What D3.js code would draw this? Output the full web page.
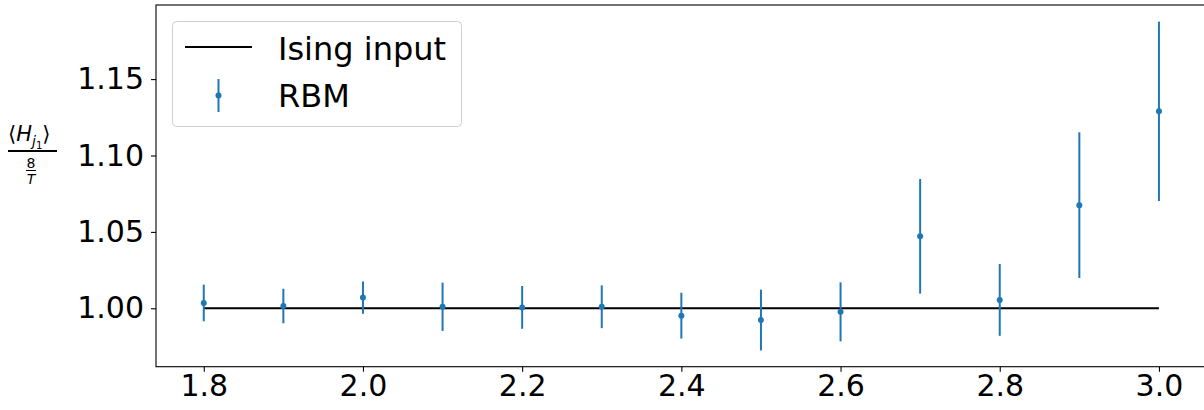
<!DOCTYPE html>
<html>
<head>
<meta charset="utf-8">
<script src="https://cdn.jsdelivr.net/npm/d3@7"></script>
<style>
  body { margin: 0; background: #fff; }
  svg { display: block; font-family: "DejaVu Sans", sans-serif; }
</style>
</head>
<body>
<script>
'use strict'
// temperatures
const temps = [1.8, 1.9, 2.0, 2.1, 2.2, 2.3, 2.4, 2.5, 2.6, 2.7, 2.8, 2.9, 3.0];
// RBM mean and error
const rbmMean = [1.0035, 1.0015, 1.0070, 1.0010, 1.0006, 1.0010, 0.9952, 0.9923, 0.9977, 1.0471, 1.0055, 1.0675, 1.1289];
const rbmErr  = [0.0120, 0.0113, 0.0106, 0.0158, 0.0140, 0.0140, 0.0150, 0.0199, 0.0193, 0.0375, 0.0235, 0.0477, 0.0587];
// Ising input reference
const isingValue = [1.0, 1.0];
const isingRange = [1.8, 3.0];
const xTicks = [1.8, 2.0, 2.2, 2.4, 2.6, 2.8, 3.0];
const yTicks = [1.00, 1.05, 1.10, 1.15];

const w = 1204;
const h = 410;
const padLeft = 156, padTop = 5, padBottom = 366.7;
const blue = "#1f77b4";

const xScale = d3.scaleLinear()
	.domain([1.74, 3.06])
	.range([padLeft, padLeft + 1050.7]);

const yScale = d3.scaleLinear()
	.domain([0.96178, 1.19849])
	.range([padBottom, padTop]);

const svg = d3.select("body")
	.append("svg")
	.attr("width", w)
	.attr("height", h);

// spines
svg.append("rect")
	.attr("x", xScale(1.74))
	.attr("y", yScale(1.19849))
	.attr("width", xScale(3.06) - xScale(1.74))
	.attr("height", yScale(0.96178) - yScale(1.19849))
	.attr("fill", "none")
	.attr("stroke", "#000")
	.attr("stroke-width", 1.1);

const xAxis = d3.axisBottom(xScale)
	.tickValues(xTicks)
	.tickFormat(d3.format(".1f"))
	.tickSize(5)
	.tickPadding(3);

const yAxis = d3.axisLeft(yScale)
	.tickValues(yTicks)
	.tickFormat(d3.format(".2f"))
	.tickSize(5)
	.tickPadding(7);

const gx = svg.append("g")
	.attr("transform", "translate(0," + padBottom + ")")
	.call(xAxis);

const gy = svg.append("g")
	.attr("transform", "translate(" + padLeft + ",0)")
	.call(yAxis);

[gx, gy].forEach((g) => {
	g.select(".domain").remove();
	g.selectAll("line").attr("stroke", "#000").attr("stroke-width", 1.1);
	g.selectAll("text")
		.attr("fill", "#000")
		.style("font-family", "DejaVu Sans")
		.style("font-size", "30px");
});

// Ising line
svg.append("line")
	.attr("x1", xScale(isingRange[0]))
	.attr("x2", xScale(isingRange[1]))
	.attr("y1", yScale(isingValue[0]))
	.attr("y2", yScale(isingValue[1]))
	.attr("stroke", "#000")
	.attr("stroke-width", 2);

// RBM errorbars
const pts = temps.map((t, i) => ({t: t, m: rbmMean[i], e: rbmErr[i]}));

svg.selectAll("line.err")
	.data(pts)
	.enter()
	.append("line")
	.attr("class", "err")
	.attr("x1", (d) => xScale(d.t))
	.attr("x2", (d) => xScale(d.t))
	.attr("y1", (d) => yScale(d.m - d.e))
	.attr("y2", (d) => yScale(d.m + d.e))
	.attr("stroke", blue)
	.attr("stroke-width", 2);

svg.selectAll("circle.pt")
	.data(pts)
	.enter()
	.append("circle")
	.attr("class", "pt")
	.attr("cx", (d) => xScale(d.t))
	.attr("cy", (d) => yScale(d.m))
	.attr("r", 3)
	.attr("fill", blue);

// legend
const lg = svg.append("g");
lg.append("rect")
	.attr("x", 172.5)
	.attr("y", 21.5)
	.attr("width", 289)
	.attr("height", 105)
	.attr("rx", 4)
	.attr("fill", "#fff")
	.attr("fill-opacity", 0.8)
	.attr("stroke", "#d0d0d0")
	.attr("stroke-width", 1);
lg.append("line")
	.attr("x1", 185).attr("x2", 252)
	.attr("y1", 47).attr("y2", 47)
	.attr("stroke", "#000").attr("stroke-width", 2);
lg.append("line")
	.attr("x1", 218.5).attr("x2", 218.5)
	.attr("y1", 79).attr("y2", 112)
	.attr("stroke", blue).attr("stroke-width", 2);
lg.append("circle")
	.attr("cx", 218.5).attr("cy", 95.5).attr("r", 3)
	.attr("fill", blue);
lg.append("text")
	.attr("x", 278).attr("y", 60)
	.style("font-size", "32px")
	.text("Ising input");
lg.append("text")
	.attr("x", 278).attr("y", 107)
	.style("font-size", "32px")
	.text("RBM");

// y label: <H_j1> / (8/T)
const yl = svg.append("g");
const num = yl.append("text")
	.attr("x", 8).attr("y", 141)
	.style("font-size", "21px");
num.append("tspan").text("⟨");
num.append("tspan").style("font-style", "italic").text("H");
num.append("tspan").attr("dy", 5).style("font-style", "italic").style("font-size", "14px").text("j");
num.append("tspan").attr("dy", 3).style("font-size", "10px").text("1");
num.append("tspan").attr("dy", -8).text("⟩");
yl.append("line")
	.attr("x1", 8).attr("x2", 57)
	.attr("y1", 151).attr("y2", 151)
	.attr("stroke", "#000").attr("stroke-width", 2);
yl.append("text")
	.attr("x", 31).attr("y", 167.5)
	.attr("text-anchor", "middle")
	.style("font-size", "14px")
	.text("8");
yl.append("line")
	.attr("x1", 26).attr("x2", 36)
	.attr("y1", 170.5).attr("y2", 170.5)
	.attr("stroke", "#000").attr("stroke-width", 1);
yl.append("text")
	.attr("x", 31).attr("y", 183.5)
	.attr("text-anchor", "middle")
	.style("font-size", "14px")
	.style("font-style", "italic")
	.text("T");
</script>
</body>
</html>
